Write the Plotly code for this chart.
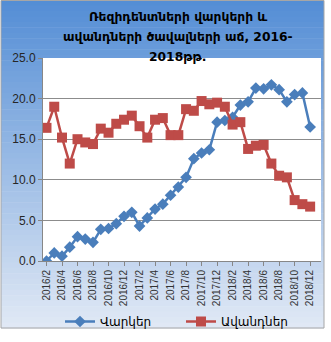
import plotly.graph_objects as go

months = [f"{y}/{m}" for y, ms in ((2016, range(2, 13)), (2017, range(1, 13)), (2018, range(1, 13))) for m in ms]
tick_labels = months[::2]

loans = [0.0, 1.0, 0.6, 1.7, 3.0, 2.7, 2.3, 3.9, 4.0, 4.6, 5.5, 6.0,
         4.3, 5.3, 6.4, 7.0, 8.1, 9.1, 10.3, 12.6, 13.3, 13.7, 17.1, 17.3,
         17.7, 19.2, 19.6, 21.3, 21.2, 21.7, 21.1, 19.6, 20.5, 20.7, 16.5]
deposits = [16.4, 19.0, 15.2, 12.0, 15.0, 14.6, 14.4, 16.3, 15.8, 16.9, 17.4, 17.9,
            16.6, 15.2, 17.4, 17.6, 15.5, 15.5, 18.7, 18.5, 19.7, 19.3, 19.5, 19.0,
            16.8, 17.1, 13.8, 14.2, 14.3, 12.0, 10.5, 10.3, 7.5, 7.0, 6.7]

title_lines = ["Ռեզիդենտների վարկերի և", "ավանդների ծավալների աճ, 2016-", "2018թթ."]
series_names = ["Վարկեր", "Ավանդներ"]

W, H = 331, 342
L, R, T, B = 43, 10, 58, 81
pw, ph = W - L - R, H - T - B

def px_x(px):
    return (px - L) / pw

def px_y(py):
    return (H - B - py) / ph

fig = go.Figure()
fig.add_trace(go.Scatter(x=months, y=loans, name=series_names[0], mode="lines+markers",
                         line=dict(color="#4A7EBB", width=2.5),
                         marker=dict(symbol="diamond", size=9, color="#4A7EBB")))
fig.add_trace(go.Scatter(x=months, y=deposits, name=series_names[1], mode="lines+markers",
                         line=dict(color="#BE4B48", width=2.5),
                         marker=dict(symbol="square", size=10, color="#BE4B48")))

shapes = []
top_c = (83, 141, 213)
bot_c = (225, 233, 245)
y0, y1 = 0, 328
n = 60
for i in range(n):
    a = y0 + (y1 - y0) * i / n
    b = y0 + (y1 - y0) * (i + 1) / n
    t = (i + 0.5) / n
    c = tuple(round(top_c[k] + (bot_c[k] - top_c[k]) * t) for k in range(3))
    shapes.append(dict(type="rect", xref="paper", yref="paper", layer="below",
                       x0=px_x(1), x1=px_x(324), y0=px_y(b + 0.5), y1=px_y(a),
                       line=dict(width=0), fillcolor=f"rgb{c}"))
shapes.append(dict(type="rect", xref="paper", yref="paper", layer="below",
                   x0=0, x1=1, y0=0, y1=1, line=dict(width=0), fillcolor="white"))
shapes.append(dict(type="rect", xref="paper", yref="paper", layer="above",
                   x0=px_x(1), x1=px_x(324), y0=px_y(328), y1=px_y(0.5),
                   line=dict(width=1, color="#A6A6A6"), fillcolor="rgba(0,0,0,0)"))

annotations = []
for i, line in enumerate(title_lines):
    annotations.append(dict(text=f"<b>{line}</b>", xref="paper", yref="paper",
                            x=px_x(178), y=px_y(17 + 20 * i), xanchor="center", yanchor="middle",
                            showarrow=False, font=dict(family="DejaVu Sans", size=12.3, color="black")))

fig.update_layout(
    width=W, height=H, margin=dict(l=L, r=R, t=T, b=B, pad=0, autoexpand=False),
    paper_bgcolor="white", plot_bgcolor="white",
    shapes=shapes, annotations=annotations,
    showlegend=True,
    legend=dict(orientation="h", x=px_x(60), y=px_y(307), xanchor="left", yanchor="top",
                font=dict(family="DejaVu Sans", size=12, color="black"),
                bgcolor="rgba(0,0,0,0)", entrywidth=76, itemwidth=30),
    xaxis=dict(type="category", tickmode="array", tickvals=tick_labels, ticktext=tick_labels,
               tickangle=-90, range=[-0.45, 35.4], showgrid=False, automargin=False,
               showline=True, linecolor="#878787", linewidth=1,
               ticks="outside", ticklen=4, tickcolor="#878787",
               tickfont=dict(family="Liberation Sans", size=10, color="#333333")),
    yaxis=dict(range=[0, 25], dtick=5, tickformat=".1f", showgrid=True, gridcolor="#8C8C8C",
               gridwidth=1, showline=True, linecolor="#878787", ticks="outside", ticklen=4,
               tickcolor="#878787", zeroline=False, automargin=False,
               tickfont=dict(family="Liberation Sans", size=12, color="#262626")),
)

fig.write_html("out.html")
